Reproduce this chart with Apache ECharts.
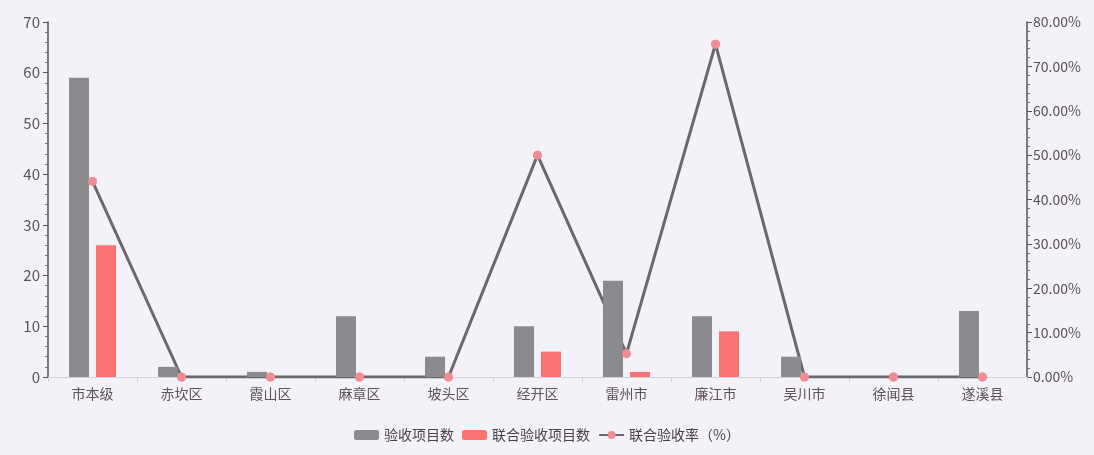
<!DOCTYPE html>
<html>
<head>
<meta charset="utf-8">
<script src="https://cdn.jsdelivr.net/npm/echarts@6/dist/echarts.min.js"></script>
<style>
html,body{margin:0;padding:0;background:#f3f2f8;}
#chart{width:1094px;height:455px;}
</style>
</head>
<body>
<div id="chart"></div>
<script>
const categories = ['市本级','赤坎区','霞山区','麻章区','坡头区','经开区','雷州市','廉江市','吴川市','徐闻县','遂溪县'];
const totalProjects = [59, 2, 1, 12, 4, 10, 19, 12, 4, 0, 13];
const jointProjects = [26, 0, 0, 0, 0, 5, 1, 9, 0, 0, 0];
const jointRate = [44.07, 0, 0, 0, 0, 50, 5.26, 75, 0, 0, 0];
const seriesNames = ['验收项目数','联合验收项目数','联合验收率（%）'];

const chart = echarts.init(document.getElementById('chart'));
const labelColor = '#5e5158';
const font = '"Noto Sans CJK SC", "Noto Sans", sans-serif';
chart.setOption({
  backgroundColor: '#f3f2f8',
  textStyle: {fontFamily: font},
  grid: {left: 48, right: 67, top: 22, bottom: 78},
  legend: {
    data: seriesNames,
    bottom: 8,
    left: 'center',
    itemWidth: 25,
    itemHeight: 10,
    itemGap: 8,
    textStyle: {fontSize: 14, color: '#4a4046', fontFamily: font}
  },
  xAxis: {
    type: 'category',
    data: categories,
    axisLine: {lineStyle: {color: '#d2d0d8'}},
    axisTick: {show: true, lineStyle: {color: '#d2d0d8'}},
    axisLabel: {fontSize: 14, color: labelColor, margin: 10, fontFamily: font}
  },
  yAxis: [{
    type: 'value', min: 0, max: 70, interval: 10,
    axisLine: {show: true, lineStyle: {color: '#55505a', width: 1.5}},
    axisTick: {show: true, lineStyle: {color: '#55505a'}},
    minorTick: {show: true, splitNumber: 5, length: 3, lineStyle: {color: '#77737c'}},
    splitLine: {show: false},
    axisLabel: {fontSize: 15, color: labelColor, margin: 8, fontFamily: font}
  }, {
    type: 'value', min: 0, max: 80, interval: 10,
    position: 'right',
    axisLine: {show: true, lineStyle: {color: '#55505a', width: 1.5}},
    axisTick: {show: true, lineStyle: {color: '#55505a'}},
    minorTick: {show: true, splitNumber: 5, length: 3, lineStyle: {color: '#77737c'}},
    splitLine: {show: false},
    axisLabel: {fontSize: 14, color: labelColor, margin: 6, fontFamily: font,
      formatter: v => v.toFixed(2) + '%'}
  }],
  series: [{
    name: seriesNames[2],
    type: 'line',
    yAxisIndex: 1,
    data: jointRate,
    z: 1,
    symbol: 'circle',
    symbolSize: 9,
    lineStyle: {color: '#6a686c', width: 3},
    itemStyle: {color: '#f08c92'}
  }, {
    name: seriesNames[0],
    type: 'bar',
    data: totalProjects,
    z: 2,
    barWidth: 20,
    barGap: '35%',
    itemStyle: {color: '#8b8a8e'}
  }, {
    name: seriesNames[1],
    type: 'bar',
    data: jointProjects,
    z: 2,
    barWidth: 20,
    barGap: '35%',
    itemStyle: {color: '#fa7272'}
  }, {
    name: seriesNames[2],
    type: 'scatter',
    yAxisIndex: 1,
    data: jointRate,
    z: 3,
    symbol: 'circle',
    symbolSize: 9,
    itemStyle: {color: '#f08c92'},
    silent: true
  }]
});
</script>
</body>
</html>
